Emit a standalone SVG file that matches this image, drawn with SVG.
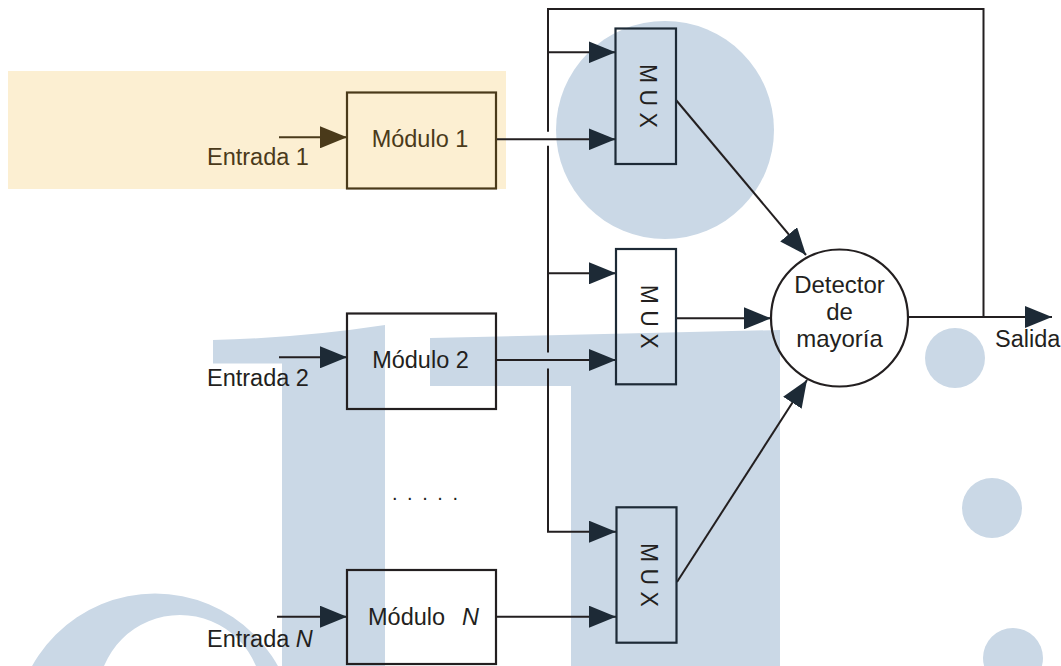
<svg xmlns="http://www.w3.org/2000/svg" width="1061" height="666" viewBox="0 0 1061 666">
<style>
.wm{fill:#cad8e6;stroke:none}
.ln{fill:none;stroke:#231f20;stroke-width:2}
.box{fill:none;stroke:#231f20;stroke-width:2.2}
.mux{fill:none;stroke:#1d2a36;stroke-width:2.2}
.t{font-family:"Liberation Sans",Arial,sans-serif;font-size:23.5px;fill:#231f20}
.tb{font-family:"Liberation Sans",Arial,sans-serif;font-size:23.5px;fill:#4a3a1a}
.mt{font-family:"Liberation Sans",Arial,sans-serif;font-size:23px;fill:#231f20}
</style>
<defs>
<marker id="ah" markerUnits="userSpaceOnUse" markerWidth="27" markerHeight="22" refX="27" refY="11" orient="auto">
<path d="M0,0 L27,11 L0,22 Z" fill="#1d2a36"/>
</marker>
<marker id="ahb" markerUnits="userSpaceOnUse" markerWidth="27" markerHeight="22" refX="27" refY="11" orient="auto">
<path d="M0,0 L27,11 L0,22 Z" fill="#4a3a1a"/>
</marker>
</defs>
<rect width="1061" height="666" fill="#ffffff"/>
<g id="watermark">
<circle class="wm" cx="665" cy="130" r="109"/>
<circle class="wm" cx="955" cy="358" r="30"/>
<circle class="wm" cx="992" cy="508" r="30"/>
<circle class="wm" cx="1013" cy="658" r="30"/>
<path class="wm" d="M213,340 Q300,338 385,325 L385,666 L282,666 L282,363.6 L213,363.6 Z"/>
<path class="wm" d="M430,338 L780,330 L780,666 L571,666 L571,386 L430,386 Z"/>
<path class="wm" fill-rule="evenodd" d="M14.5,734 A140.5,140.5 0 1 1 295.5,734 A140.5,140.5 0 1 1 14.5,734 Z M98,697 A82,82 0 1 0 262,697 A82,82 0 1 0 98,697 Z"/>
</g>
<rect id="highlight" x="8" y="71" width="498" height="118" fill="#fcefd2"/>
<g id="connectors">
<path class="ln" d="M548,131.7 V9 H983.5 V317"/>
<path class="ln" d="M548,145.7 V352.5"/>
<path class="ln" d="M548,368.5 V531.7 H616" marker-end="url(#ah)"/>
<path class="ln" d="M548,52.3 H615.5" marker-end="url(#ah)"/>
<path class="ln" d="M548,273.3 H616" marker-end="url(#ah)"/>
<path d="M279,137.3 H347" fill="none" stroke="#4a3a1a" stroke-width="2" marker-end="url(#ahb)"/>
<path class="ln" d="M279,357.3 H347" marker-end="url(#ah)"/>
<path class="ln" d="M277,616.7 H347" marker-end="url(#ah)"/>
<path class="ln" d="M496,139.3 H615.5" marker-end="url(#ah)"/>
<path class="ln" d="M496,360 H616" marker-end="url(#ah)"/>
<path class="ln" d="M496,616.7 H616" marker-end="url(#ah)"/>
<path class="ln" d="M676,100 L806,255" marker-end="url(#ah)"/>
<path class="ln" d="M676,318.3 H771" marker-end="url(#ah)"/>
<path class="ln" d="M677,582 L807,380" marker-end="url(#ah)"/>
<path class="ln" d="M908.5,317 H1052" marker-end="url(#ah)"/>
</g>
<g id="modulo1">
<rect x="347" y="92.5" width="149" height="96" fill="none" stroke="#4a3a1a" stroke-width="2.2"/>
<text class="tb" x="420" y="147" text-anchor="middle">Módulo 1</text>
<text class="tb" x="207" y="165.3">Entrada 1</text>
</g>
<g id="modulo2">
<rect class="box" x="347" y="313.5" width="149" height="95.5"/>
<text class="t" x="420.5" y="367.7" text-anchor="middle">Módulo 2</text>
<text class="t" x="207" y="386">Entrada 2</text>
</g>
<g id="moduloN">
<rect class="box" x="347" y="570" width="149" height="94"/>
<text class="t" x="368" y="625">Módulo<tspan x="462" font-style="italic">N</tspan></text>
<text class="t" x="207" y="646.7">Entrada <tspan font-style="italic">N</tspan></text>
</g>
<g id="dots">
<text class="t" x="392" y="499.5" style="font-size:20px;letter-spacing:2px">. . . . .</text>
</g>
<g id="mux1">
<rect class="mux" x="615.5" y="28.5" width="60.5" height="135.5"/>
<text class="mt" transform="translate(640,96) rotate(90)" text-anchor="middle">M U X</text>
</g>
<g id="mux2">
<rect class="mux" x="616" y="249" width="60" height="135.3"/>
<text class="mt" transform="translate(640.5,316.7) rotate(90)" text-anchor="middle">M U X</text>
</g>
<g id="muxN">
<rect class="mux" x="616.5" y="507.3" width="60" height="135.4"/>
<text class="mt" transform="translate(641,575) rotate(90)" text-anchor="middle">M U X</text>
</g>
<g id="detector">
<circle cx="839.5" cy="318" r="68.5" fill="none" stroke="#231f20" stroke-width="2.2"/>
<text class="t" style="font-size:24px" x="839.5" y="293.3" text-anchor="middle">Detector</text>
<text class="t" style="font-size:24px" x="839.5" y="320" text-anchor="middle">de</text>
<text class="t" style="font-size:24px" x="839.5" y="346.7" text-anchor="middle">mayoría</text>
</g>
<g id="salida">
<text class="t" x="995" y="346.7">Salida</text>
</g>
</svg>
